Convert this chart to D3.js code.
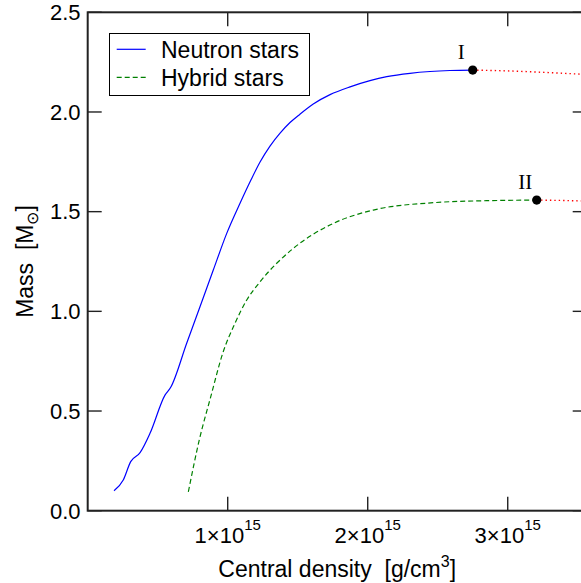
<!DOCTYPE html>
<html><head><meta charset="utf-8">
<script src="https://cdn.jsdelivr.net/npm/d3@7"></script>
<style>
body{margin:0;background:#fff;}
text{font-family:"Liberation Sans",Arial,sans-serif;fill:#000;white-space:pre;}
</style></head>
<body><svg id="c" width="581" height="583"></svg>
<script>
// density in units of 1e15 g/cm^3, mass in solar masses
const neutronDensity = [0.188,0.254,0.307,0.374,0.445,0.552,0.593,0.707,0.802,0.897,0.993,1.088,1.164,1.231,1.302,1.374,1.445,1.516,1.611,1.731,1.874,2.016,2.136,2.302,2.445,2.588,2.75];
const neutronMass    = [0.100,0.154,0.246,0.291,0.388,0.580,0.619,0.840,1.023,1.207,1.391,1.542,1.656,1.749,1.829,1.894,1.947,1.989,2.040,2.087,2.126,2.157,2.177,2.194,2.203,2.208,2.210];
const hybridDensity  = [0.719,0.797,0.879,0.964,1.052,1.136,1.231,1.469,1.754,2.040,2.469,2.85,3.207];
const hybridMass     = [0.095,0.355,0.572,0.789,0.940,1.057,1.148,1.316,1.441,1.508,1.545,1.555,1.558];
const neutronUnstableDensity = [2.75,3.0,3.25,3.564];
const neutronUnstableMass    = [2.210,2.206,2.199,2.188];
const hybridUnstableDensity  = [3.207,3.4,3.564];
const hybridUnstableMass     = [1.558,1.556,1.553];
const maxPoints = [{d:2.75,m:2.210,label:"I"},{d:3.207,m:1.558,label:"II"}];
const xTicks = [1,2,3];
const yTicks = [0,0.5,1.0,1.5,2.0,2.5];
const seriesNames = ["Neutron stars","Hybrid stars"];

const svg = d3.select("#c");
const L=87.7, R=586.7, T=12.3, B=510.7;
const x = d3.scaleLinear().domain([0,3.564]).range([L,R]);
const y = d3.scaleLinear().domain([0,2.5]).range([B,T]);

svg.append("clipPath").attr("id","clip").append("rect")
  .attr("x",L).attr("y",T).attr("width",R-L).attr("height",B-T);
const g = svg.append("g").attr("clip-path","url(#clip)");
const line = d3.line().x(d=>x(d[0])).y(d=>y(d[1])).curve(d3.curveMonotoneX);
const zip=(a,b)=>a.map((v,i)=>[v,b[i]]);

g.append("path").attr("d",line(zip(neutronUnstableDensity,neutronUnstableMass)))
  .attr("fill","none").attr("stroke","#ff0000").attr("stroke-width",1.4).attr("stroke-dasharray","1.4,3");
g.append("path").attr("d",line(zip(hybridUnstableDensity,hybridUnstableMass)))
  .attr("fill","none").attr("stroke","#ff0000").attr("stroke-width",1.4).attr("stroke-dasharray","1.4,3");
g.append("path").attr("d",line(zip(neutronDensity,neutronMass)))
  .attr("fill","none").attr("stroke","#0000ff").attr("stroke-width",1.2);
g.append("path").attr("d",line(zip(hybridDensity,hybridMass)))
  .attr("fill","none").attr("stroke","#008000").attr("stroke-width",1.2).attr("stroke-dasharray","5,3");

// points
svg.selectAll(".pt").data(maxPoints).enter().append("circle")
  .attr("cx",d=>x(d.d)).attr("cy",d=>y(d.m)).attr("r",4.6).attr("fill","#000");
svg.selectAll(".lab").data(maxPoints).enter().append("text")
  .attr("x",d=>x(d.d)-11.5).attr("y",d=>y(d.m)-11)
  .attr("text-anchor","middle").style("font-family","'Liberation Serif','Times New Roman',serif")
  .style("font-size","21px").text(d=>d.label);

// frame
const ax = svg.append("g").attr("stroke","#222").attr("fill","none");
ax.append("rect").attr("x",L).attr("y",T).attr("width",R-L).attr("height",B-T).attr("stroke-width",2);
const tl=14;
xTicks.forEach(t=>{
  ax.append("line").attr("x1",x(t)).attr("x2",x(t)).attr("y1",B).attr("y2",B-tl).attr("stroke-width",1.4);
  ax.append("line").attr("x1",x(t)).attr("x2",x(t)).attr("y1",T).attr("y2",T+tl).attr("stroke-width",1.4);
});
yTicks.forEach(t=>{
  ax.append("line").attr("x1",L).attr("x2",L+tl).attr("y1",y(t)).attr("y2",y(t)).attr("stroke-width",1.4);
  ax.append("line").attr("x1",R).attr("x2",R-tl).attr("y1",y(t)).attr("y2",y(t)).attr("stroke-width",1.4);
});

// tick labels
yTicks.forEach(t=>{
  svg.append("text").attr("x",80.5).attr("y",y(t)+7.8).attr("text-anchor","end")
    .style("font-size","22px").text(d3.format(".1f")(t));
});
xTicks.forEach(t=>{
  const tx = svg.append("text").attr("x",x(t)).attr("y",543.3).attr("text-anchor","middle").style("font-size","22px");
  tx.append("tspan").text(t+"\u00d710");
  tx.append("tspan").attr("dy",-13).style("font-size","15px").text("15");
});

// axis titles
const xt = svg.append("text").attr("x",(L+R)/2).attr("y",576.7).attr("text-anchor","middle").style("font-size","23px");
xt.append("tspan").text("Central density  [g/cm");
xt.append("tspan").attr("dy",-10).style("font-size","16px").text("3");
xt.append("tspan").attr("dy",10).text("]");

const yt = svg.append("text").attr("transform",`translate(33,${(T+B)/2}) rotate(-90)`)
  .attr("text-anchor","middle").style("font-size","23px");
yt.append("tspan").text("Mass  [M");
yt.append("tspan").attr("dy",5).style("font-size","16px").text("\u2299");
yt.append("tspan").attr("dy",-5).text("]");

// legend
const lg = svg.append("g");
lg.append("rect").attr("x",109.5).attr("y",33.5).attr("width",200).attr("height",62)
  .attr("fill","#fff").attr("stroke","#000").attr("stroke-width",1);
const legStyles=[{c:"#0000ff",dash:null},{c:"#008000",dash:"5,3"}];
seriesNames.forEach((n,i)=>{
  const ly = 49.3 + i*28;
  const l = lg.append("line").attr("x1",116.7).attr("x2",145.7).attr("y1",ly).attr("y2",ly)
    .attr("stroke",legStyles[i].c).attr("stroke-width",1.2);
  if(legStyles[i].dash) l.attr("stroke-dasharray",legStyles[i].dash);
  lg.append("text").attr("x",161).attr("y",ly+8.7).style("font-size","23px").text(n);
});
</script></body></html>
